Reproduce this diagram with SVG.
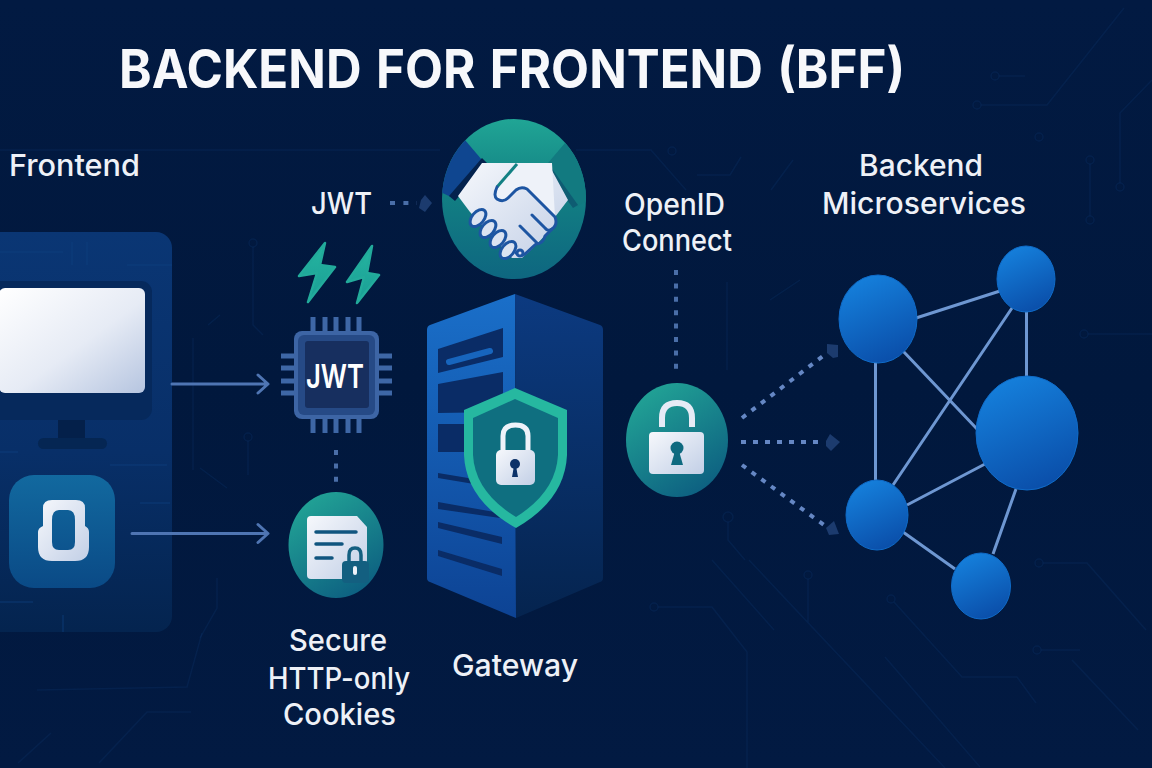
<svg xmlns="http://www.w3.org/2000/svg" width="1152" height="768" viewBox="0 0 1152 768">
<style>
text{font-family:Inter,"Noto Sans","Liberation Sans",sans-serif;fill:#eef1f7;text-anchor:middle;font-weight:500;font-size:30px}
.title{font-weight:700;fill:#f7f8fb;font-size:53.500px;word-spacing:3px}
.circ{fill:none;stroke:#0a2c5e;stroke-width:1.500;opacity:.4}
.pan{fill:none;stroke:#0e3f80;stroke-width:1.500;opacity:.5}
.arrow{fill:none;stroke:#4f75b3;stroke-width:3;stroke-linecap:round;stroke-linejoin:round}
.dots{fill:none;stroke:#4a6ea8;stroke-width:4;stroke-dasharray:5 8.400}
.dotsb{fill:none;stroke:#6587c4;stroke-width:4;stroke-dasharray:5 7}
.blob{fill:#1c3b6e}
.edge{stroke:#6e97d2;stroke-width:3;fill:none}
.pin{stroke:#3e67a6;stroke-width:5}
.bar{fill:#0a2c66}
.node{fill:url(#nodeG);stroke:#0f6bc8;stroke-width:1}
.hline{fill:none;stroke:#1d55a2;stroke-width:3;stroke-linecap:round;stroke-linejoin:round}
</style>
<defs>
<linearGradient id="bg" x1="0" y1="0" x2="0" y2="1"><stop offset="0" stop-color="#021a42"/><stop offset=".5" stop-color="#01183d"/><stop offset="1" stop-color="#021a42"/></linearGradient>
<linearGradient id="panel" x1="0" y1="0" x2="0" y2="1"><stop offset="0" stop-color="#0a3674"/><stop offset=".55" stop-color="#082f68"/><stop offset="1" stop-color="#04244f"/></linearGradient>
<linearGradient id="screen" x1="0" y1="0" x2="1" y2="1"><stop offset="0" stop-color="#ffffff"/><stop offset=".55" stop-color="#e6ebf5"/><stop offset="1" stop-color="#b6c5e0"/></linearGradient>
<linearGradient id="tile" x1="0" y1="0" x2="0" y2="1"><stop offset="0" stop-color="#12699f"/><stop offset="1" stop-color="#0a4a86"/></linearGradient>
<linearGradient id="white" x1="0" y1="0" x2="1" y2="1"><stop offset="0" stop-color="#f6f8fc"/><stop offset="1" stop-color="#c2cfe6"/></linearGradient>
<linearGradient id="teal" x1="0.2" y1="0" x2="0.8" y2="1"><stop offset="0" stop-color="#22a596"/><stop offset="1" stop-color="#0c5c80"/></linearGradient>
<linearGradient id="shake" x1="0" y1="0" x2="0" y2="1"><stop offset="0" stop-color="#20a595"/><stop offset=".45" stop-color="#128083"/><stop offset="1" stop-color="#0e6680"/></linearGradient>
<linearGradient id="nodeG" x1="0.3" y1="0" x2="0.7" y2="1"><stop offset="0" stop-color="#1580dc"/><stop offset="1" stop-color="#0a4da8"/></linearGradient>
<linearGradient id="sLeft" x1="0" y1="0" x2="0" y2="1"><stop offset="0" stop-color="#1a6fc9"/><stop offset="1" stop-color="#0d4394"/></linearGradient>
<linearGradient id="sRight" x1="0" y1="0" x2="0" y2="1"><stop offset="0" stop-color="#0c3a80"/><stop offset="1" stop-color="#05244f"/></linearGradient>
<linearGradient id="bolt" x1="0" y1="0" x2="0" y2="1"><stop offset="0" stop-color="#25b5a0"/><stop offset="1" stop-color="#1a9d95"/></linearGradient>
<clipPath id="hs"><ellipse cx="514" cy="199" rx="72" ry="80"/></clipPath>
</defs>

<rect id="background" width="1152" height="768" fill="url(#bg)"/>
<g id="circuit-traces">
<path class="circ" d="M0 150H440M576 150H651L686 190M697 175H730L741 157M771 190L793 160"/>
<circle class="circ" cx="672" cy="151" r="4"/>
<circle class="circ" cx="253" cy="243" r="4"/><path class="circ" d="M253 247V325L263 335M208 325L220 315M193 338V470M200 468L227 488"/>
<circle class="circ" cx="248" cy="437" r="4"/><path class="circ" d="M248 441V475M217 578V608L200 638"/>
<path class="circ" d="M727 282V370M770 300L800 280"/>
<circle class="circ" cx="728" cy="517" r="5"/><path class="circ" d="M728 522V540L745 560"/>
<circle class="circ" cx="1084" cy="334" r="4"/><path class="circ" d="M1088 334H1152"/>
<circle class="circ" cx="654" cy="607" r="4"/><path class="circ" d="M658 607H712L747 652V768"/>
<circle class="circ" cx="808" cy="575" r="4"/><path class="circ" d="M808 579V623M749 560L945 768M712 560L774 630"/>
<circle class="circ" cx="891" cy="599" r="4"/><path class="circ" d="M894 602L962 677H1017L1036 703M885 657L980 767"/>
<circle class="circ" cx="1037" cy="650" r="4"/><path class="circ" d="M1041 650H1080"/>
<circle class="circ" cx="1039" cy="563" r="4"/><path class="circ" d="M1043 563H1087L1146 630M1072 660L1138 730"/>
<circle class="circ" cx="977" cy="105" r="4"/><path class="circ" d="M981 105H1047L1124 8"/>
<circle class="circ" cx="995" cy="76" r="4"/><path class="circ" d="M999 76H1025"/>
<circle class="circ" cx="1120" cy="187" r="4"/><path class="circ" d="M1120 183V113L1152 80"/>
<circle class="circ" cx="1090" cy="160" r="4"/><circle class="circ" cx="1090" cy="220" r="4"/><path class="circ" d="M1090 164V216"/>
<circle class="circ" cx="1039" cy="137" r="4"/>
<path class="circ" d="M99 763L147 712H191M18 763L51 733M37 690L187 687L202 633"/>
</g>

<g id="title"><text class="title" x="512" y="87.500" textLength="786" lengthAdjust="spacingAndGlyphs">BACKEND FOR FRONTEND (BFF)</text></g>

<g id="frontend">
<text x="74.500" y="176" textLength="131" lengthAdjust="spacingAndGlyphs">Frontend</text>
<rect x="-20" y="232" width="192" height="400" rx="16" fill="url(#panel)"/>
<path class="pan" d="M0 252H63M72 242V265M87 242V265M127 265H172M0 452H18M110 465H167M140 503H170M0 602H33M63 615V632"/>
<rect x="-12" y="281" width="164" height="139" rx="11" fill="#06295c"/>
<rect x="-1" y="288" width="146" height="105" rx="6" fill="url(#screen)"/>
<rect x="58" y="420" width="27" height="18" fill="#04204a"/>
<rect x="38" y="438" width="69" height="11" rx="5.500" fill="#052653"/>
<rect x="9" y="475" width="106" height="113" rx="25" fill="url(#tile)"/>
<path d="M38 532Q38 528 43 526V508Q43 500 52 500H76Q85 500 85 508V526Q89 528 89 532V547Q89 561 75 561H52Q38 561 38 547ZM52 520V542Q52 550 59 550H68Q75 550 75 542V520Q75 510 68 510H59Q52 510 52 520Z" fill="url(#white)" fill-rule="evenodd"/>
</g>

<g id="connectors">
<path class="arrow" d="M172 384H267M258 375L268 384L258 393"/>
<path class="arrow" d="M132 533.500H267M258 524.500L268 533.500L258 542.500"/>
<path class="dots" d="M336 450V484"/>
<path class="dots" d="M676 270V370"/>
<path class="dots" d="M390 203H417" stroke-dasharray="5 5.500"/>
<path class="blob" d="M421 200L425 195L432 203L425 212L419 208Z"/>
<path class="dotsb" d="M742 418L823 356"/>
<path class="blob" d="M827 344L838 345L838 357L833 358L827 353Z"/>
<path class="dotsb" d="M741 442H820"/>
<path class="blob" d="M826 441L830 434L840 442L831 451L826 446Z"/>
<path class="dotsb" d="M742 465L824 525"/>
<path class="blob" d="M826 528L834 521L839 534L829 535Z"/>
</g>

<g id="jwt-label"><text x="341.500" y="214" textLength="61" lengthAdjust="spacingAndGlyphs">JWT</text></g>

<g id="handshake">
<ellipse cx="514" cy="199" rx="72" ry="80" fill="url(#shake)"/>
<g clip-path="url(#hs)">
<path d="M465 140L482 160L451 197L436 190V140Z" fill="#0f4690"/>
<path d="M482 158L487 163L455 201L449 196Z" fill="#04224d"/>
<path d="M565 143L548 163L577 207L592 197V143Z" fill="#127a80"/>
<path d="M548 163L543 167L573 208L578 205Z" fill="#0e5c72"/>
</g>
<path d="M482 163H545L549 165L568 200L555 217L555 225L533 248L522 258L512 258L470 212L458 196Z" fill="url(#white)"/>
<path d="M520 163L497 187Q493 196 497 199Q503 203 508 198L516 190Q521 186 527 189L555 217L552 163Z" fill="#eef2f9"/>
<path d="M517 164L497 187" stroke="#128083" stroke-width="3" fill="none"/>
<path class="hline" d="M497 187Q493 196 497 199Q503 203 508 198L516 190Q521 186 527 189L555 217Q558 225 552 229Q548 232 545 228L532 215"/>
<path class="hline" d="M520 226L537 243M552 229L545 236Q543 244 536 244M537 243L525 254Q520 257 516 253"/>
<g fill="#dbe3f1" stroke="#1d55a2" stroke-width="3">
<ellipse cx="478" cy="218" rx="6" ry="10" transform="rotate(40 478 218)"/>
<ellipse cx="488" cy="229" rx="6" ry="10" transform="rotate(40 488 229)"/>
<ellipse cx="498" cy="239" rx="6" ry="10" transform="rotate(40 498 239)"/>
<ellipse cx="508" cy="250" rx="6" ry="10" transform="rotate(40 508 250)"/>
<circle cx="520" cy="253" r="3"/>
</g>
</g>

<g id="bolts">
<path d="M325 243L299 276L317 273L308 302L335 267L320 265Z" fill="url(#bolt)" stroke="#22ab9b" stroke-width="2.500" stroke-linejoin="round"/>
<path d="M372 246L347 282L364 277L357 303L379 275L367 273Z" fill="url(#bolt)" stroke="#22ab9b" stroke-width="2.500" stroke-linejoin="round"/>
</g>

<g id="jwt-chip">
<path class="pin" d="M313 317V331M325 317V331M336 317V331M348 317V331M359 317V331M313 419V433M325 419V433M336 419V433M348 419V433M359 419V433M281 356H294M281 368H294M281 381H294M281 393H294M379 356H392M379 368H392M379 381H392M379 393H392"/>
<rect x="294" y="331" width="85" height="88" rx="8" fill="#3d65a5"/>
<rect x="298" y="335" width="77" height="80" rx="6" fill="#264a86"/>
<rect x="305" y="341" width="64" height="67" rx="3" fill="#172f5f"/>
<text x="335" y="388" style="fill:#fff;font-size:33px;font-weight:600" textLength="58" lengthAdjust="spacingAndGlyphs">JWT</text>
</g>

<g id="cookies">
<ellipse cx="336" cy="545" rx="47.500" ry="53" fill="url(#teal)"/>
<path d="M311 516H357L367 527V575Q367 579 363 579H311Q307 579 307 575V520Q307 516 311 516Z" fill="url(#white)"/>
<path d="M316 532H356M316 544H342M316 558H332" stroke="#10557f" stroke-width="3.500" stroke-linecap="round"/>
<path d="M349 562V555Q349 548 355 548Q361 548 361 555V562" fill="none" stroke="#135f80" stroke-width="3.500"/>
<rect x="342" y="561" width="27" height="22" rx="4" fill="#135f80"/>
<rect x="353" y="566" width="4" height="9" rx="2" fill="#eef2f9"/>
<text x="338" y="651" textLength="98" lengthAdjust="spacingAndGlyphs">Secure</text>
<text x="339" y="689" textLength="142" lengthAdjust="spacingAndGlyphs">HTTP-only</text>
<text x="339.500" y="725" textLength="113" lengthAdjust="spacingAndGlyphs">Cookies</text>
</g>

<g id="gateway">
<path d="M515 294L430 325Q427 326 427 330V578Q427 581 430 582L516 618Z" fill="url(#sLeft)"/>
<path d="M515 294L600 325Q603 326 603 330V578Q603 581 600 582L516 618Z" fill="url(#sRight)"/>
<path class="bar" d="M438 349L503 328V357L438 373Z"/>
<path d="M449 362L490 351" stroke="#1765bd" stroke-width="6" stroke-linecap="round"/>
<path class="bar" d="M438 384L503 372V412L438 413Z"/>
<path class="bar" d="M438 424H480V452H438Z"/>
<path class="bar" d="M438 473L480 480V485L438 478Z"/>
<path class="bar" d="M438 502L500 513V518L438 509Z"/>
<path class="bar" d="M438 522L502 537V544L438 528Z"/>
<path class="bar" d="M438 550L502 569V576L438 556Z"/>
<path d="M515 388L567 410V455Q565 500 516 528Q466 500 464 455V410Z" fill="#26b8a0"/>
<path d="M515 399L558 418V455Q556 492 516 517Q475 492 473 455V418Z" fill="#0f6f80"/>
<path d="M503 452V436Q503 425 515.500 425Q528 425 528 436V452" fill="none" stroke="#eef2f9" stroke-width="5"/>
<rect x="496" y="450" width="39" height="35" rx="5" fill="url(#white)"/>
<circle cx="515" cy="464" r="5" fill="#0c3168"/>
<path d="M514 466L512 477H518L516 466Z" fill="#0c3168"/>
<text x="515" y="676" textLength="126" lengthAdjust="spacingAndGlyphs">Gateway</text>
</g>

<g id="openid">
<text x="674.500" y="215" textLength="101" lengthAdjust="spacingAndGlyphs">OpenID</text>
<text x="677" y="251" textLength="110" lengthAdjust="spacingAndGlyphs">Connect</text>
<ellipse cx="677" cy="440" rx="51" ry="57" fill="url(#teal)"/>
<path d="M662 427V418Q662 403 677 403Q692 403 692 418V427" fill="none" stroke="#e6ebf5" stroke-width="6"/>
<rect x="649" y="432" width="55" height="42" rx="4" fill="url(#white)"/>
<circle cx="677" cy="448" r="6.500" fill="#0f6a80"/>
<path d="M675 451L671 465H683L679 451Z" fill="#0f6a80"/>
</g>

<g id="connectors-mesh">
<path class="edge" d="M916 318L1000 291M1026.500 310V378M875.500 360V482M903 351L977 429M1012 308L893 485M907 505L985 464M903 532L955 569M1016 489L993 554"/>
</g>
<g id="backend">
<text x="921" y="176" textLength="124" lengthAdjust="spacingAndGlyphs">Backend</text>
<text x="924" y="214" textLength="204" lengthAdjust="spacingAndGlyphs">Microservices</text>
</g>
<g id="svc-1"><ellipse class="node" cx="878" cy="319" rx="39" ry="44"/></g>
<g id="svc-2"><ellipse class="node" cx="1026" cy="279" rx="29" ry="33"/></g>
<g id="svc-3"><ellipse class="node" cx="1027" cy="433" rx="51" ry="57"/></g>
<g id="svc-4"><ellipse class="node" cx="877" cy="515" rx="31" ry="35"/></g>
<g id="svc-5"><ellipse class="node" cx="981" cy="586" rx="29.500" ry="33"/></g>
</svg>
